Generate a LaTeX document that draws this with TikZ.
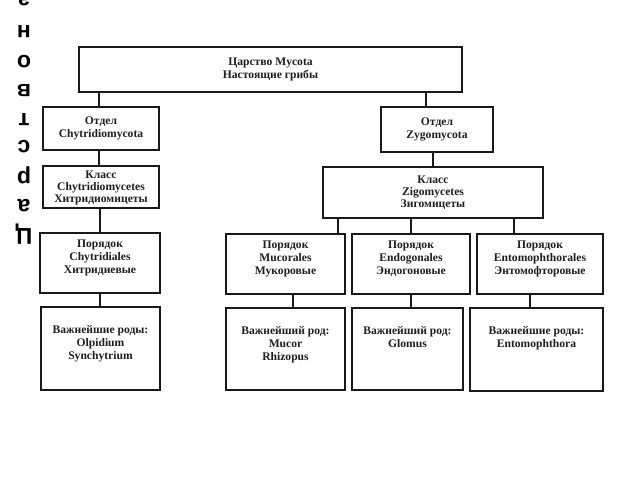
\documentclass[tikz,border=0pt]{standalone}
\usepackage{fontspec}
\setmainfont{Liberation Serif}
\newfontfamily\vsans{Liberation Sans}
\begin{document}
\begin{tikzpicture}[x=1pt,y=-1pt,
  box/.style={draw=black!90, line width=1.4pt, inner sep=0pt, fill=white},
  txt/.style={font=\bfseries\fontsize{11.6}{13.2}\selectfont, align=center, text=black!88, inner sep=0pt},
  tight/.style={font=\bfseries\fontsize{11.6}{12}\selectfont},
  link/.style={draw=black!90, line width=1.2pt},
  vlet/.style={font=\vsans\bfseries\fontsize{23}{23}\selectfont, rotate=180, inner sep=0pt, text height=0.75em, text depth=0.25em}]
\useasboundingbox[fill=white] (0,0) rectangle (640,480);

% vertical upside-down letters
\node[vlet] (v0) at (24,-4) {а};
\node[vlet] (v1) at (24,28) {н};
\node[vlet] (v2) at (24,58) {о};
\node[vlet] (v3) at (24,87) {в};
\node[vlet] (v4) at (24,116) {т};
\node[vlet] (v5) at (24,143) {с};
\node[vlet] (v6) at (24,174) {р};
\node[vlet] (v7) at (24,202) {а};
\node[vlet] (v8) at (24,231) {Ц};

% boxes
\node[box, minimum width=383pt, minimum height=45pt] (king) at (270.5,69.5) {};
\node[box, minimum width=116pt, minimum height=43pt] (d1) at (101,128.5) {};
\node[box, minimum width=112pt, minimum height=45pt] (d2) at (437,129.5) {};
\node[box, minimum width=116pt, minimum height=42pt] (c1) at (101,187) {};
\node[box, minimum width=220pt, minimum height=51pt] (c2) at (433,192.5) {};
\node[box, minimum width=120pt, minimum height=60pt] (o1) at (100,263) {};
\node[box, minimum width=119pt, minimum height=60pt] (o2) at (285.5,264) {};
\node[box, minimum width=118pt, minimum height=60pt] (o3) at (411,264) {};
\node[box, minimum width=126pt, minimum height=60pt] (o4) at (540,264) {};
\node[box, minimum width=119pt, minimum height=83pt] (g1) at (100.5,348.5) {};
\node[box, minimum width=119pt, minimum height=82pt] (g2) at (285.5,349) {};
\node[box, minimum width=111pt, minimum height=82pt] (g3) at (407.5,349) {};
\node[box, minimum width=133pt, minimum height=83pt] (g4) at (536.5,349.5) {};

% texts
\node[txt] (kingT) at (king.center) {Царство Mycota\\Настоящие грибы};
\node[txt] (d1T) at (d1.center) {Отдел\\Chytridiomycota};
\node[txt] (d2T) at (d2.center) {Отдел\\Zygomycota};
\node[txt, tight] (c1T) at ([yshift=-1pt]c1.center) {Класс\\Chytridiomycetes\\Хитридиомицеты};
\node[txt, tight] (c2T) at ([yshift=0pt]c2.center) {Класс\\Zigomycetes\\Зигомицеты};
\node[txt] (o1T) at ([yshift=5pt]o1.center) {Порядок\\Chytridiales\\Хитридиевые};
\node[txt] (o2T) at ([yshift=5pt]o2.center) {Порядок\\Mucorales\\Мукоровые};
\node[txt] (o3T) at ([yshift=5pt]o3.center) {Порядок\\Endogonales\\Эндогоновые};
\node[txt] (o4T) at ([yshift=5pt]o4.center) {Порядок\\Entomophthorales\\Энтомофторовые};
\node[txt, anchor=north] (g1T) at ([yshift=-19pt]g1.north) {Важнейшие роды:\\Olpidium\\Synchytrium};
\node[txt, anchor=north] (g2T) at ([yshift=-19pt]g2.north) {Важнейший род:\\Mucor\\Rhizopus};
\node[txt, anchor=north] (g3T) at ([yshift=-19pt]g3.north) {Важнейший род:\\Glomus};
\node[txt, anchor=north] (g4T) at ([yshift=-19pt]g4.north) {Важнейшие роды:\\Entomophthora};

% connectors
\draw[link] ([xshift=-2pt]d1.north |- king.south) -- ([xshift=-2pt]d1.north);
\draw[link] ([xshift=-11pt]d2.north |- king.south) -- ([xshift=-11pt]d2.north);
\draw[link] ([xshift=-2pt]d1.south) -- ([xshift=-2pt]d1.south |- c1.north);
\draw[link] (d2.south -| c2.north) -- (c2.north);
\draw[link] (c1.south -| o1.north) -- (o1.north);
\draw[link] ([xshift=52.5pt]o2.north |- c2.south) -- ([xshift=52.5pt]o2.north);
\draw[link] (c2.south -| o3.north) -- (o3.north);
\draw[link] ([xshift=-26pt]o4.north |- c2.south) -- ([xshift=-26pt]o4.north);
\draw[link] (o1.south) -- (o1.south |- g1.north);
\draw[link] ([xshift=7.5pt]o2.south) -- ([xshift=7.5pt]o2.south |- g2.north);
\draw[link] (o3.south) -- (o3.south |- g3.north);
\draw[link] ([xshift=-10pt]o4.south) -- ([xshift=-10pt]o4.south |- g4.north);
\end{tikzpicture}
\end{document}
